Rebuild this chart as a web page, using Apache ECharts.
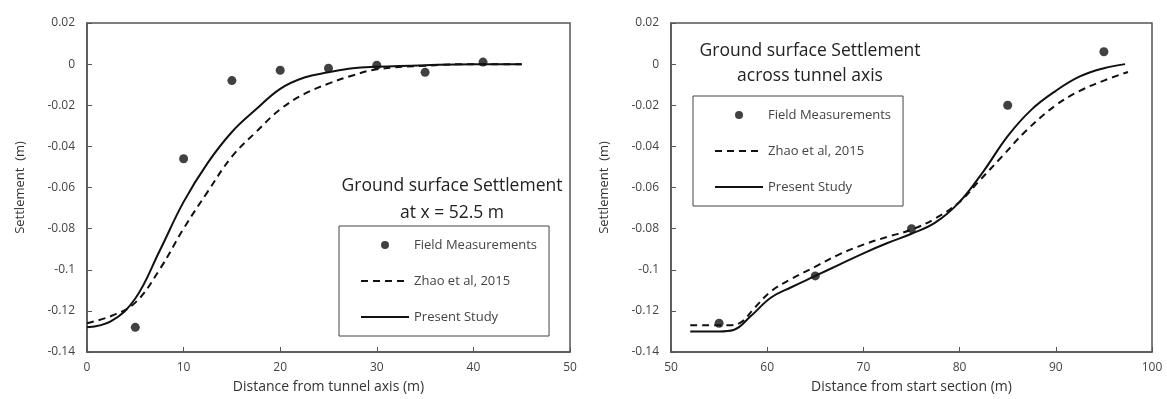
<!DOCTYPE html>
<html>
<head>
<meta charset="utf-8">
<script src="https://cdn.jsdelivr.net/npm/echarts@6/dist/echarts.min.js"></script>
<style>
html, body { margin: 0; padding: 0; background: #fff; }
#chart { width: 1167px; height: 399px; }
</style>
</head>
<body>
<div id="chart"></div>
<script>
// left plot: settlement along x = 52.5 m
var leftFieldX = [5, 10, 15, 20, 25, 30, 35, 41];
var leftFieldY = [-0.128, -0.046, -0.008, -0.003, -0.002, -0.0005, -0.004, 0.001];
var leftCurveX = [0, 2.5, 5, 7.5, 10, 12.5, 15, 17.5, 20, 22.5, 25, 27.5, 30, 35, 40, 45];
var leftPresent = [-0.128, -0.125, -0.114, -0.091, -0.067, -0.048, -0.033, -0.022, -0.012, -0.0065, -0.004, -0.002, -0.0013, -0.0005, 0, 0];
var leftZhao = [-0.126, -0.1225, -0.116, -0.1, -0.08, -0.062, -0.045, -0.033, -0.022, -0.0145, -0.0095, -0.0055, -0.0025, -0.0008, 0, 0];

// right plot: settlement across tunnel axis
var rightFieldX = [55, 65, 75, 85, 95];
var rightFieldY = [-0.126, -0.103, -0.080, -0.020, 0.006];
var rightPresentX = [52, 55, 56.5, 58.3, 60.4, 62.5, 65, 67.5, 70, 72.5, 75, 77.5, 80, 82.5, 85, 87.5, 90, 92.5, 95, 97.2];
var rightPresent = [-0.13, -0.13, -0.1293, -0.1225, -0.1135, -0.1085, -0.103, -0.0975, -0.092, -0.087, -0.0825, -0.077, -0.067, -0.052, -0.035, -0.022, -0.013, -0.006, -0.002, 0];
var rightZhaoX = [52, 56, 57.3, 58.6, 60.4, 62.5, 65, 67.5, 70, 72.5, 75, 77.5, 80, 82, 84.4, 87, 90, 92.5, 95, 97.5];
var rightZhao = [-0.127, -0.127, -0.1255, -0.119, -0.1105, -0.1045, -0.0985, -0.0925, -0.0878, -0.084, -0.0805, -0.075, -0.067, -0.057, -0.045, -0.032, -0.020, -0.013, -0.008, -0.0038];

var names = ['Field Measurements', 'Zhao et al, 2015', 'Present Study'];
var xNames = ['Distance from tunnel axis (m)', 'Distance from start section (m)'];
var yName = 'Settlement  (m)';

var FONT = 'Open Sans';

function pairs(xs, ys) {
    var out = [];
    for (var i = 0; i < xs.length; i++) {
        out.push([xs[i], ys[i]]);
    }
    return out;
}

function xAxisOf(idx, min, max) {
    return {
        type: 'value', gridIndex: idx, min: min, max: max, interval: 10,
        name: xNames[idx], nameLocation: 'middle', nameGap: 28,
        nameTextStyle: { fontFamily: FONT, fontSize: 14, color: '#333' },
        axisLine: { onZero: false, lineStyle: { color: '#555', width: 1.5 } },
        axisTick: { inside: true, length: 5, lineStyle: { color: '#555' } },
        axisLabel: { fontFamily: FONT, fontSize: 12, color: '#444', margin: 10 },
        splitLine: { show: false }
    };
}

function yAxisOf(idx) {
    return {
        type: 'value', gridIndex: idx, min: -0.14, max: 0.02, interval: 0.02,
        name: yName, nameLocation: 'middle', nameGap: 60,
        nameTextStyle: { fontFamily: FONT, fontSize: 13, color: '#333' },
        axisLine: { onZero: false, lineStyle: { color: '#555', width: 1.5 } },
        axisTick: { inside: true, length: 5, lineStyle: { color: '#555' } },
        axisLabel: { fontFamily: FONT, fontSize: 12, color: '#444', margin: 12 },
        splitLine: { show: false }
    };
}

function seriesOf(idx, field, zhao, present) {
    return [
        {
            name: names[0], type: 'scatter', xAxisIndex: idx, yAxisIndex: idx,
            data: field, symbol: 'circle', symbolSize: 9,
            itemStyle: { color: '#111' }, z: 5
        },
        {
            name: names[1], type: 'line', xAxisIndex: idx, yAxisIndex: idx,
            data: zhao, symbol: 'none', smooth: 0.4,
            itemStyle: { color: '#111' },
            lineStyle: { color: '#111', width: 2, type: [7, 5] }
        },
        {
            name: names[2], type: 'line', xAxisIndex: idx, yAxisIndex: idx,
            data: present, symbol: 'none', smooth: 0.4,
            itemStyle: { color: '#111' },
            lineStyle: { color: '#111', width: 2 }
        }
    ];
}

// line items in the legend: line only, no marker dot
var noDot = { color: 'rgba(0,0,0,0)', borderWidth: 0 };

function legendAt(left, top) {
    return {
        orient: 'vertical', left: left, top: top,
        data: [
            { name: names[0] },
            { name: names[1], itemStyle: noDot },
            { name: names[2], itemStyle: noDot }
        ],
        selectedMode: false,
        itemWidth: 48, itemHeight: 8, itemGap: 20,
        padding: [11, 12, 11, 21],
        borderColor: '#444', borderWidth: 1,
        textStyle: { fontFamily: FONT, fontSize: 13, color: '#444', lineHeight: 16 }
    };
}

var chart = echarts.init(document.getElementById('chart'));
var option = {
    backgroundColor: '#fff',
    animation: false,
    title: [
        {
            text: 'Ground surface Settlement\nat x = 52.5 m', left: 447, top: 168, textAlign: 'center',
            textStyle: { fontFamily: FONT, fontSize: 17.5, fontWeight: 'normal', color: '#222', lineHeight: 27, align: 'center' }
        },
        {
            text: 'Ground surface Settlement\nacross tunnel axis', left: 805, top: 34, textAlign: 'center',
            textStyle: { fontFamily: FONT, fontSize: 17.5, fontWeight: 'normal', color: '#222', lineHeight: 25, align: 'center' }
        }
    ],
    legend: [legendAt(339, 226), legendAt(693, 96)],
    grid: [
        { left: 87, top: 23, width: 483, height: 330, show: true, borderColor: '#555', borderWidth: 1.5 },
        { left: 671, top: 23, width: 481, height: 330, show: true, borderColor: '#555', borderWidth: 1.5 }
    ],
    xAxis: [xAxisOf(0, 0, 50), xAxisOf(1, 50, 100)],
    yAxis: [yAxisOf(0), yAxisOf(1)],
    series: []
        .concat(seriesOf(0, pairs(leftFieldX, leftFieldY), pairs(leftCurveX, leftZhao), pairs(leftCurveX, leftPresent)))
        .concat(seriesOf(1, pairs(rightFieldX, rightFieldY), pairs(rightZhaoX, rightZhao), pairs(rightPresentX, rightPresent)))
};
chart.setOption(option);
</script>
</body>
</html>
